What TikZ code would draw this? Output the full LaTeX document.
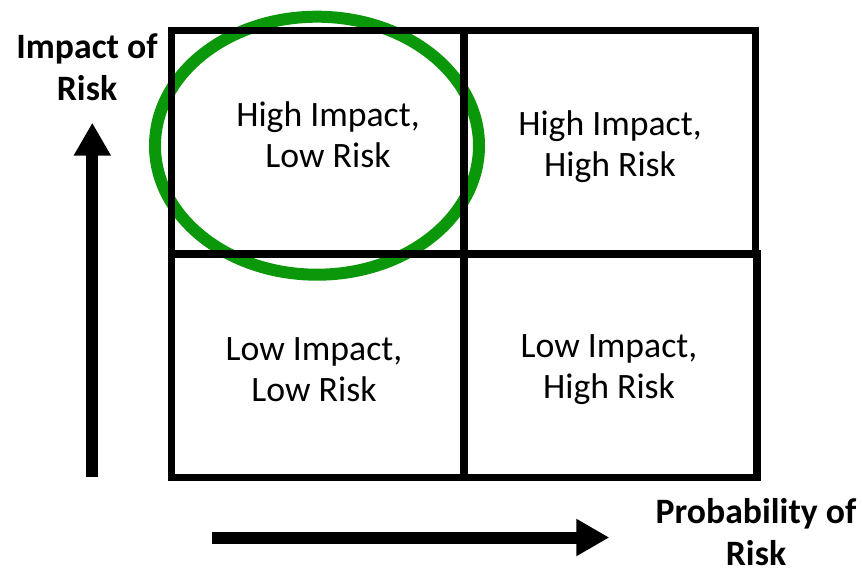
\documentclass[tikz,border=0pt]{standalone}
\usepackage{fontspec}
\setmainfont{Carlito}
\usetikzlibrary{arrows.meta}

\definecolor{ringgreen}{RGB}{10,152,10}

\begin{document}
\begin{tikzpicture}[x=1pt, y=-1pt,
    cell/.style={draw, line width=7.5pt, minimum height=223.5pt, minimum width=292.5pt, inner sep=0pt},
    celltext/.style={anchor=base, align=center, font=\fontsize{35.7}{41}\selectfont},
    axislabel/.style={anchor=base, align=center, font=\bfseries\fontsize{35.7}{42}\selectfont},
    axis/.style={line width=12pt, -{Triangle[length=33pt, width=35pt]}}]
\useasboundingbox (0,0) rectangle (862,576);
\draw[ringgreen, line width=12pt] (317,145.7) ellipse [x radius=162pt, y radius=129pt];
\node[cell] (hilo) at (317.75,142.25) {};
\node[cell, minimum width=291.5pt] (hihi) at (609.75,142.25) {};
\node[cell] (lolo) at (317.75,365.75) {};
\node[cell, minimum width=293pt] (lohi) at (610.5,365.75) {};
% base anchor sits on the last line
\node[celltext] (hilo text) at (328,167) {High Impact,\\Low Risk};
\node[celltext] (hihi text) at (610,176) {High Impact,\\High Risk};
\node[celltext] (lolo text) at (314,401) {Low Impact,\\Low Risk};
\node[celltext] (lohi text) at (609,398) {Low Impact,\\High Risk};
\node[axislabel] (impact label) at (87,100) {Impact of\\Risk};
\node[axislabel] (probability label) at (756,565) {Probability of\\Risk};
\coordinate (impact tail) at (92.3,476.7);
\coordinate (impact head) at (92.3,122.7);
\coordinate (probability tail) at (212.3,537.5);
\coordinate (probability head) at (609.3,537.5);
\draw[axis] (impact tail) -- (impact head);
\draw[axis] (probability tail) -- (probability head);
\end{tikzpicture}
\end{document}
